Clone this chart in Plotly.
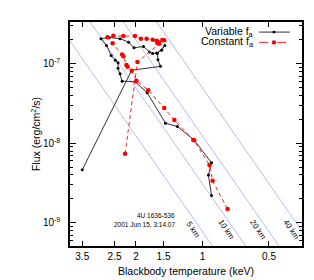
import numpy as np
import plotly.graph_objects as go

# ---- data: Variable f_a (black) ----
var_T = [3.50, 2.09, 1.55, 1.59, 1.60, 1.48, 1.53, 1.61, 1.68, 1.74, 1.85, 2.04, 2.16,
         2.36, 2.64, 2.88, 2.72, 2.59, 2.48, 2.41, 2.41, 2.36, 2.31, 2.02, 1.78, 1.47,
         1.30, 1.09, 0.91, 0.94, 0.91]
var_F = [4.64e-9, 8.30e-8, 9.28e-8, 1.12e-7, 1.35e-7, 1.70e-7, 1.48e-7, 1.37e-7, 1.35e-7,
         1.41e-7, 1.65e-7, 1.59e-7, 1.87e-7, 2.07e-7, 2.14e-7, 2.07e-7, 1.70e-7, 1.27e-7,
         1.11e-7, 1.03e-7, 8.78e-8, 7.49e-8, 6.05e-8, 5.94e-8, 4.33e-8, 1.79e-8, 1.63e-8,
         1.10e-8, 5.69e-9, 4.00e-9, 2.20e-9]

# ---- data: Constant f_a (red) ----
con_T = [2.24, 1.97, 1.57, 1.52, 1.49, 1.58, 1.61, 1.60, 1.68, 1.79, 1.90, 2.02, 2.28,
         2.53, 2.69, 2.55, 2.31, 2.28, 2.21, 2.18, 2.09, 1.99, 1.76, 1.49, 1.34, 1.10,
         1.09, 0.93, 0.90, 0.77]
con_F = [7.39e-9, 1.05e-7, 1.78e-7, 1.99e-7, 1.97e-7, 1.87e-7, 1.95e-7, 1.83e-7, 2.01e-7,
         2.07e-7, 2.07e-7, 2.23e-7, 2.23e-7, 2.25e-7, 2.16e-7, 1.81e-7, 1.31e-7, 1.24e-7,
         9.63e-8, 9.20e-8, 8.15e-8, 6.11e-8, 4.66e-8, 2.77e-8, 1.96e-8, 1.10e-8, 1.09e-8,
         5.34e-9, 3.38e-9, 1.49e-9]

# ---- constant-radius blackbody lines ----
radii_km = [5, 10, 20, 40]
radius_labels = ["5 km", "10 km", "20 km", "40 km"]
label_T = [1.106, 0.782, 0.562, 0.3975]
label_F = 8.2e-10
norm = 3.1e-11  # flux per km^2 per keV^4

x_ticks = [3.5, 2.5, 2, 1.5, 1, 0.5]
x_ticktext = ["3.5", "2.5", "2", "1.5", "1", "0.5"]
y_ticks = [1e-9, 1e-8, 1e-7]
y_ticktext = ["10<sup>-9</sup>", "10<sup>-8</sup>", "10<sup>-7</sup>"]

FONT = "Liberation Sans, Arial, sans-serif"

fig = go.Figure()

Tgrid = np.geomspace(0.3, 5.0, 50)
for R in radii_km:
    fig.add_trace(go.Scatter(x=Tgrid, y=norm * R**2 * Tgrid**4, mode="lines",
                             line=dict(color="rgba(120,120,255,0.75)", width=0.7),
                             hoverinfo="skip", showlegend=False))

fig.add_trace(go.Scatter(x=var_T, y=var_F, mode="lines+markers",
                         line=dict(color="#333333", width=1),
                         marker=dict(color="black", size=3),
                         showlegend=False))
fig.add_trace(go.Scatter(x=con_T, y=con_F, mode="lines+markers",
                         line=dict(color="#ff2020", width=1, dash="4px,3px"),
                         marker=dict(color="red", size=4.5),
                         showlegend=False))

ann = []
for lab, t in zip(radius_labels, label_T):
    ann.append(dict(x=np.log10(t), y=np.log10(label_F), xref="x", yref="y",
                    text=lab, showarrow=False, textangle=56,
                    font=dict(size=8, family=FONT, color="black")))
ann.append(dict(x=0.4625, y=0.138, xref="paper", yref="paper", text="4U 1636-536",
                showarrow=False, xanchor="right", yanchor="middle",
                font=dict(size=6.5, family=FONT, color="black")))
ann.append(dict(x=0.4625, y=0.098, xref="paper", yref="paper", text="2001 Jun 15, 3:14.07",
                showarrow=False, xanchor="right", yanchor="middle",
                font=dict(size=6.5, family=FONT, color="black")))
# legend (gnuplot style: text then sample)
leg = [("Variable f<sub>a</sub>", 0.955, "#333333", "black", None, 3),
       ("Constant f<sub>a</sub>", 0.909, "#ff2020", "red", "dash", 4.5)]
shapes = []
for txt, yy, lc, mc, dash, ms in leg:
    ann.append(dict(x=0.802, y=yy, xref="paper", yref="paper", text=txt, showarrow=False,
                    xanchor="right", yanchor="middle",
                    font=dict(size=10.5, family=FONT, color="black")))
    shapes.append(dict(type="line", xref="paper", yref="paper", x0=0.815, x1=0.948,
                       y0=yy, y1=yy, line=dict(color=lc, width=1, dash=dash)))
    r = ms / 2 / 232
    shapes.append(dict(type="circle", xref="paper", yref="paper",
                       x0=0.879 - r, x1=0.879 + r, y0=yy - r, y1=yy + r,
                       fillcolor=mc, line=dict(color=mc, width=0)))

minor_y = [m * 10.0**e for e in range(-10, -6) for m in range(2, 10)]

fig.update_layout(
    width=314, height=280,
    margin=dict(l=62, r=20, t=12, b=36),
    paper_bgcolor="white", plot_bgcolor="white",
    font=dict(family=FONT, size=10, color="black"),
    annotations=ann, shapes=shapes,
    xaxis=dict(type="log", range=[0.5995, -0.4504], tickvals=x_ticks, ticktext=x_ticktext,
               ticks="inside", ticklen=5, tickwidth=1, tickcolor="black",
               showline=True, linecolor="black", linewidth=1.5, mirror="ticks",
               showgrid=False, zeroline=False,
               title=dict(text="Blackbody temperature (keV)", standoff=7,
                          font=dict(size=10.5, family=FONT))),
    yaxis=dict(type="log", range=[-9.291, -6.4747], tickvals=y_ticks, ticktext=y_ticktext,
               ticks="inside", ticklen=6, tickwidth=1, tickcolor="black",
               minor=dict(tickvals=minor_y, ticks="inside", ticklen=3, tickcolor="black",
                          showgrid=False),
               showline=True, linecolor="black", linewidth=1.5, mirror="ticks",
               showgrid=False, zeroline=False, ticklabelstandoff=6,
               title=dict(text="Flux (erg/cm<sup>2</sup>/s)", standoff=0,
                          font=dict(size=10.5, family=FONT))),
)

fig.write_html("out.html")
